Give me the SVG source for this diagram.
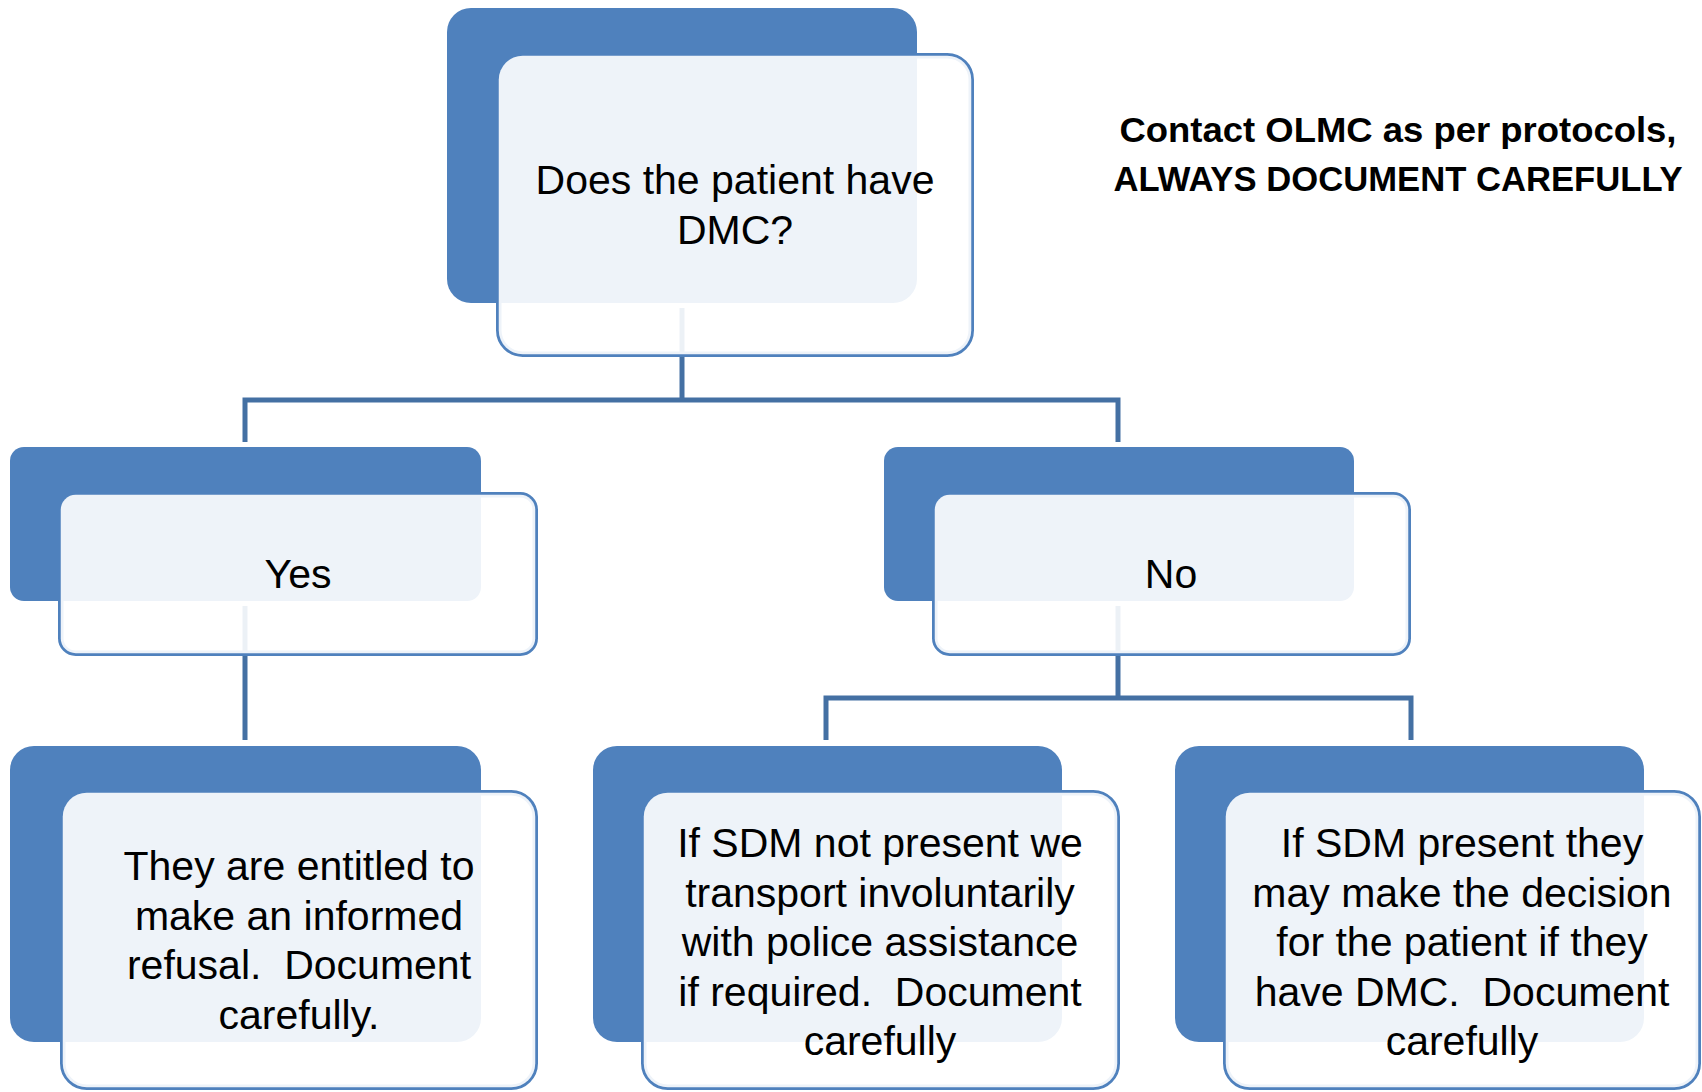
<svg xmlns="http://www.w3.org/2000/svg" width="1702" height="1092" viewBox="0 0 1702 1092">
<style>
.back{fill:#4F81BD;}
.frame{fill:none;stroke:#4F81BD;stroke-width:5.5;}
.veil{fill:#FFFFFF;fill-opacity:0.9;}
.conn{fill:none;stroke:#4470A3;stroke-width:5;}
.t{font-family:"Liberation Sans",Arial,sans-serif;font-size:41px;fill:#000;text-anchor:middle;white-space:pre;}
.h{font-family:"Liberation Sans",Arial,sans-serif;font-size:35px;font-weight:bold;fill:#000;text-anchor:middle;}
</style>
<rect width="1702" height="1092" fill="#FFFFFF"/>
<g id="connectors">
<path class="conn" d="M682,308 V400 M245,442 V400 H1118 V442"/>
<path class="conn" d="M245,606 V740"/>
<path class="conn" d="M1118,606 V698 M826,740 V698 H1411 V740"/>
</g>
<g id="node-dmc">
<rect class="frame" x="498.75" y="55.75" width="472.5" height="298.5" rx="24"/>
<rect class="back" x="447" y="8" width="470" height="295" rx="24"/>
<rect class="veil" x="498.75" y="55.75" width="472.5" height="298.5" rx="24"/>
<text class="t" x="735" y="194">Does the patient have</text>
<text class="t" x="735" y="244">DMC?</text>
</g>
<g id="node-yes">
<rect class="frame" x="60.75" y="494.75" width="474.5" height="158.5" rx="15"/>
<rect class="back" x="10" y="447" width="471" height="154" rx="14"/>
<rect class="veil" x="60.75" y="494.75" width="474.5" height="158.5" rx="15"/>
<text class="t" x="298" y="588">Yes</text>
</g>
<g id="node-no">
<rect class="frame" x="934.75" y="494.75" width="473.5" height="158.5" rx="15"/>
<rect class="back" x="884" y="447" width="470" height="154" rx="14"/>
<rect class="veil" x="934.75" y="494.75" width="473.5" height="158.5" rx="15"/>
<text class="t" x="1171" y="588">No</text>
</g>
<g id="node-refusal">
<rect class="frame" x="62.75" y="792.75" width="472.5" height="294.5" rx="24"/>
<rect class="back" x="10" y="746" width="471" height="296" rx="24"/>
<rect class="veil" x="62.75" y="792.75" width="472.5" height="294.5" rx="24"/>
<text class="t" x="299" y="880">They are entitled to</text>
<text class="t" x="299" y="929.5">make an informed</text>
<text class="t" x="299" y="979" xml:space="preserve">refusal.  Document</text>
<text class="t" x="299" y="1028.5">carefully.</text>
</g>
<g id="node-sdm-absent">
<rect class="frame" x="643.75" y="792.75" width="473.5" height="294.5" rx="24"/>
<rect class="back" x="593" y="746" width="469" height="296" rx="24"/>
<rect class="veil" x="643.75" y="792.75" width="473.5" height="294.5" rx="24"/>
<text class="t" x="880" y="857">If SDM not present we</text>
<text class="t" x="880" y="906.5">transport involuntarily</text>
<text class="t" x="880" y="956">with police assistance</text>
<text class="t" x="880" y="1005.5" xml:space="preserve">if required.  Document</text>
<text class="t" x="880" y="1055">carefully</text>
</g>
<g id="node-sdm-present">
<rect class="frame" x="1225.75" y="792.75" width="472.5" height="294.5" rx="24"/>
<rect class="back" x="1175" y="746" width="469" height="296" rx="24"/>
<rect class="veil" x="1225.75" y="792.75" width="472.5" height="294.5" rx="24"/>
<text class="t" x="1462" y="857">If SDM present they</text>
<text class="t" x="1462" y="906.5">may make the decision</text>
<text class="t" x="1462" y="956">for the patient if they</text>
<text class="t" x="1462" y="1005.5" xml:space="preserve">have DMC.  Document</text>
<text class="t" x="1462" y="1055">carefully</text>
</g>
<g id="note">
<text class="h" x="1398" y="142" textLength="557" lengthAdjust="spacingAndGlyphs">Contact OLMC as per protocols,</text>
<text class="h" x="1398" y="191" textLength="569" lengthAdjust="spacingAndGlyphs">ALWAYS DOCUMENT CAREFULLY</text>
</g>
</svg>
